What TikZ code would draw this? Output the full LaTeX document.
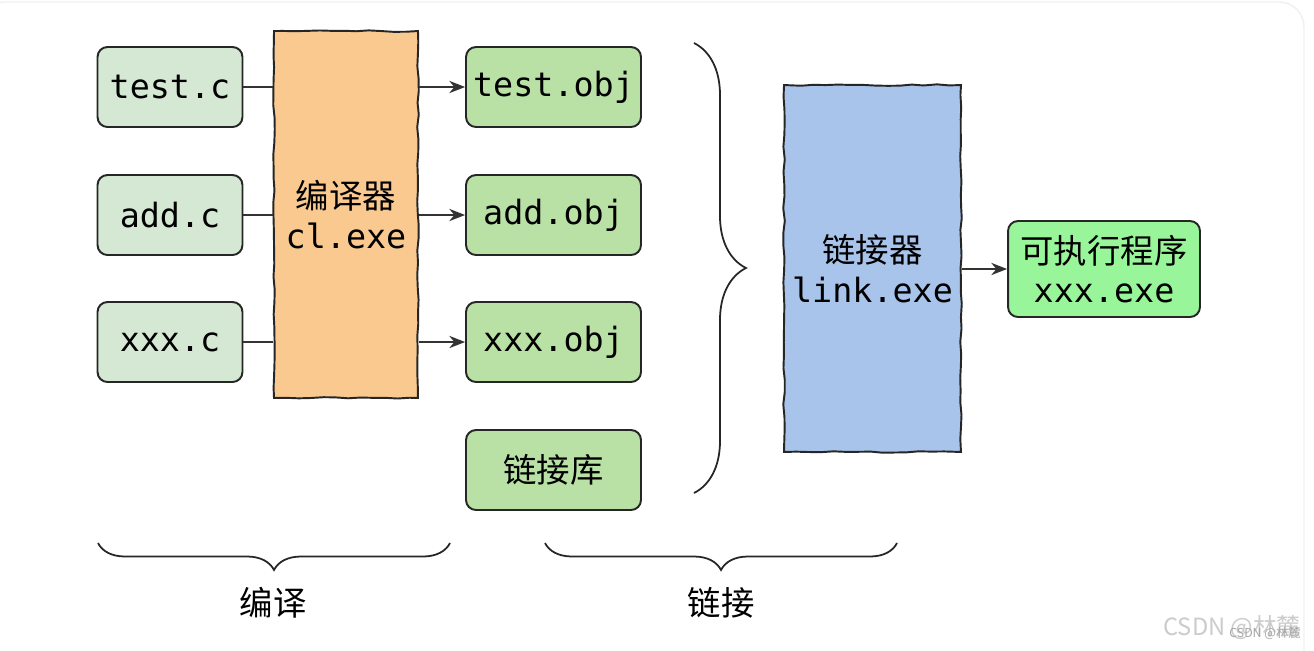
\documentclass[tikz,border=0pt]{standalone}
\usepackage{fontspec}
\setmonofont{DejaVu Sans Mono}
\newfontfamily\cjk{Noto Sans CJK SC}
\usetikzlibrary{arrows.meta,positioning,decorations.pathmorphing,decorations.pathreplacing}

\definecolor{srcgreen}{HTML}{D5E8D4}
\definecolor{objgreen}{HTML}{B9E0A5}
\definecolor{cmporange}{HTML}{F9C98F}
\definecolor{lnkblue}{HTML}{A9C4EB}
\definecolor{exegreen}{HTML}{99F599}

\tikzset{
  sketchy/.style={decorate, decoration={random steps, segment length=7pt, amplitude=0.45pt}},
  filebox/.style={draw=black!85, line width=1.1pt, rounded corners=0.2cm,
    inner sep=0pt, minimum height=1.6cm, font=\fontsize{19}{23}\selectfont\ttfamily},
  srcbox/.style={filebox, fill=srcgreen, minimum width=2.9cm},
  objbox/.style={filebox, fill=objgreen, minimum width=3.5cm},
  toolbox/.style={draw=black!85, line width=1.1pt, sketchy, inner sep=0pt,
    minimum height=7.34cm, align=center, font=\fontsize{19}{22.5}\selectfont},
  link/.style={line width=0.9pt, black!80},
  arr/.style={link, -{Stealth[length=9pt,width=7pt]}},
  lbl/.style={font=\fontsize{19}{23}\selectfont\cjk},
  bracket/.style={line width=1pt, black!85, decorate}
}

\begin{document}
\begin{tikzpicture}[x=0.02cm,y=-0.02cm]
  \pgfmathsetseed{7}
  \useasboundingbox (0,0) rectangle (1314,650);
  \fill[white] (0,0) rectangle (1314,650);
  \draw[gray!12, line width=0.8pt, rounded corners=0.5cm] (-20,2) rectangle (1304,700);

  % source files and compiler
  \foreach \nm/\lab/\y in {test/test.c/87, add/add.c/215, xxx/xxx.c/342}{
    \node[srcbox] (\nm-c) at (170,\y) {\lab};
  }
  \node[toolbox, fill=cmporange, minimum width=2.88cm] (cl) at (346,214.5)
    {{\cjk 编译器}\\{\ttfamily cl.exe}};

  % object files
  \foreach \nm/\lab/\y in {test/test.obj/87, add/add.obj/215, xxx/xxx.obj/342}{
    \node[objbox] (\nm-o) at (553.5,\y) {\lab};
    \draw[link] (\nm-c) -- (\nm-c -| cl.west);
    \draw[arr] (cl.east |- \nm-o) -- (\nm-o);
  }
  \node[objbox, lbl] (lib) at (553.5,470) {链接库};

  % linker and result
  \node[toolbox, fill=lnkblue, minimum width=3.54cm] (lnk) at (872.5,268.5)
    {{\cjk 链接器}\\{\ttfamily link.exe}};
  \node[filebox, fill=exegreen, minimum width=3.84cm, minimum height=1.92cm,
    align=center, font=\fontsize{19}{22.5}\selectfont] (exe) at (1104,269)
    {{\cjk 可执行程序}\\{\ttfamily xxx.exe}};
  \draw[arr] (lnk.east |- exe) -- (exe);

  % braces
  \coordinate (br-top) at (694,43);
  \coordinate (br-bot) at (694,493);
  \draw[bracket, decoration={brace, amplitude=1.04cm}] (br-top) -- (br-bot);

  \coordinate (cmp-r) at (450,543);
  \coordinate (cmp-l) at (98,543);
  \draw[bracket, decoration={brace, amplitude=0.54cm}] (cmp-r) -- (cmp-l);
  \node[lbl] (cmp-lab) at (273,603) {编译};

  \coordinate (lnk-r) at (897,543);
  \coordinate (lnk-l) at (545,543);
  \draw[bracket, decoration={brace, amplitude=0.54cm}] (lnk-r) -- (lnk-l);
  \node[lbl] (lnk-lab) at (721,603) {链接};

  % watermark
  \node[text=gray!40, font=\fontsize{13.5}{14}\cjk] (wm) at (1232,628) {CSDN @林麓};
  \node[text=gray!70, font=\fontsize{7}{8}\cjk] (wm-s) at (1265,633) {CSDN @林麓};
\end{tikzpicture}
\end{document}
